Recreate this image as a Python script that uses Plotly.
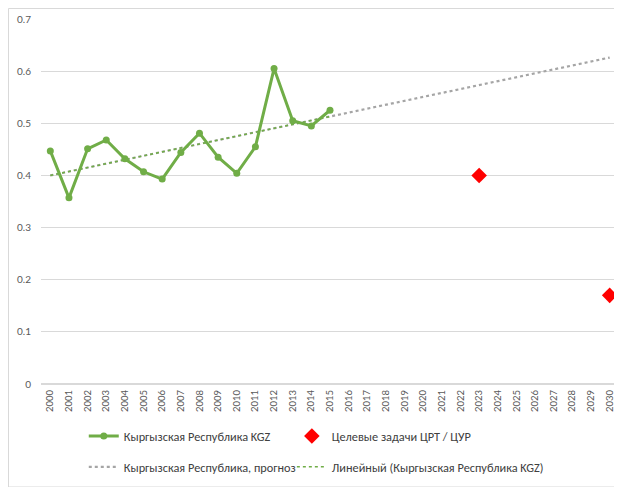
import plotly.graph_objects as go

# observed series, 2000-2015
years = list(range(2000, 2016))
kgz = [0.447, 0.357, 0.451, 0.468, 0.432, 0.407, 0.393, 0.444,
       0.481, 0.435, 0.404, 0.455, 0.605, 0.505, 0.495, 0.525]

# MDG / SDG targets
target_years = [2023, 2030]
target_vals = [0.40, 0.17]

# forecast line (gray dotted) and Excel linear trend (green dotted)
forecast_years = [2000, 2030]
forecast_vals = [0.400, 0.626]
trend_years = [2000, 2015]
trend_vals = [0.400, 0.513]

tick_years = list(range(2000, 2031))
y_ticks = [0, 0.1, 0.2, 0.3, 0.4, 0.5, 0.6, 0.7]

GREEN = "#70AD47"
TICK_FONT = "Lato, 'Open Sans', sans-serif"
LEGEND_FONT = "Calibri, Carlito, 'Open Sans', sans-serif"

fig = go.Figure()

fig.add_trace(go.Scatter(
    x=forecast_years, y=forecast_vals, mode="lines",
    name="Кыргызская Республика, прогноз", legend="legend3",
    line=dict(color="#A5A5A5", width=2.2, dash="dot"),
))
fig.add_trace(go.Scatter(
    x=trend_years, y=trend_vals, mode="lines",
    name="Линейный (Кыргызская Республика KGZ)", legend="legend4",
    line=dict(color=GREEN, width=1.5, dash="dot"),
))
fig.add_trace(go.Scatter(
    x=years, y=kgz, mode="lines+markers",
    name="Кыргызская Республика KGZ", legend="legend",
    line=dict(color=GREEN, width=3),
    marker=dict(color=GREEN, size=7),
))
fig.add_trace(go.Scatter(
    x=target_years, y=target_vals, mode="markers",
    name="Целевые задачи ЦРТ / ЦУР", legend="legend2",
    marker=dict(color="#FF0000", symbol="diamond", size=12),
))

legend_style = dict(
    orientation="h", xanchor="left", yanchor="middle", itemwidth=30,
    font=dict(family=LEGEND_FONT, size=12.3, color="#404040"),
    bgcolor="rgba(0,0,0,0)",
)
col1, col2 = 0.074, 0.434
row1, row2 = -0.1425, -0.227

# page body adds an 8px offset, so the figure is 8px smaller than the window
fig.update_layout(
    width=614, height=479,
    margin=dict(l=33, r=3, t=11, b=103, autoexpand=False),
    plot_bgcolor="white", paper_bgcolor="white",
    font=dict(family=TICK_FONT, color="#404040"),
    showlegend=True,
    legend=dict(x=col1, y=row1, **legend_style),
    legend2=dict(x=col2, y=row1, **legend_style),
    legend3=dict(x=col1, y=row2, **legend_style),
    legend4=dict(x=col2, y=row2, **legend_style),
)
fig.update_xaxes(
    range=[1999.5, 2030.5], tickmode="array", tickvals=tick_years,
    ticktext=[str(y) for y in tick_years], tickangle=-90,
    tickfont=dict(size=9.5, color="#595959"), showgrid=False,
    showline=False, zeroline=False, ticks="", automargin=False,
    ticklabelstandoff=3,
)
fig.update_yaxes(
    range=[0, 0.7], tickvals=y_ticks,
    ticktext=["0", "0.1", "0.2", "0.3", "0.4", "0.5", "0.6", "0.7"],
    tickfont=dict(size=10, color="#595959"), showgrid=True,
    gridcolor="#D9D9D9", gridwidth=1, zeroline=True, zerolinecolor="#D9D9D9",
    showline=False, ticks="", ticklabelstandoff=9, automargin=False,
)

# outer chart border
fig.add_shape(type="rect", xref="paper", yref="paper",
              x0=-32.5 / 578, x1=579 / 578, y0=-103 / 365, y1=1 + 10.5 / 365,
              line=dict(color="#D9D9D9", width=1))

fig.write_html("out.html")
